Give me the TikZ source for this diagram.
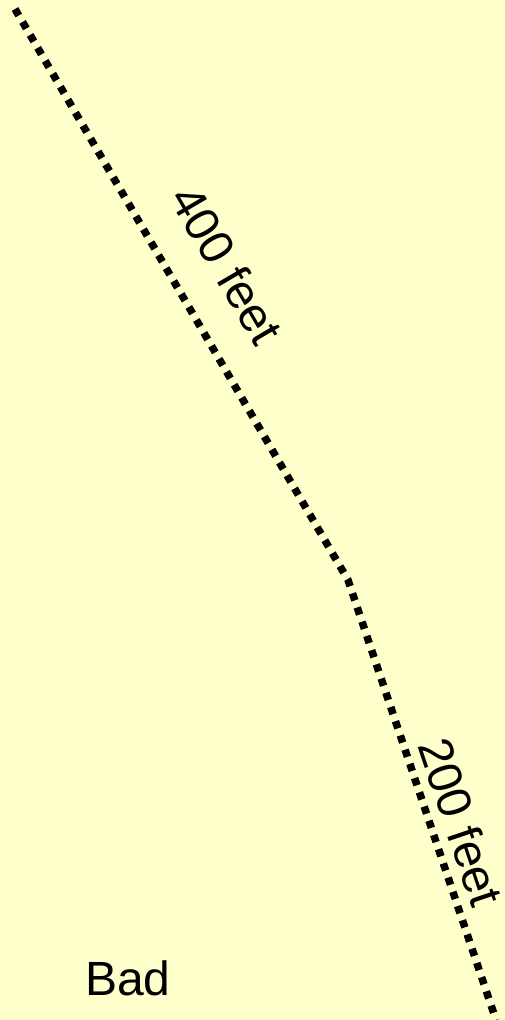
\documentclass[tikz,border=0pt]{standalone}
\usepackage{fontspec}
\setmainfont{Liberation Sans}
\begin{document}
\begin{tikzpicture}[x=1pt,y=-1pt,
  path/.style={line width=7.5pt,dash pattern=on 7.5pt off 7.5pt,black},
  lbl/.style={font=\fontsize{48}{52}\selectfont,inner sep=0pt}]
\fill[fill={rgb,255:red,255;green,255;blue,204}] (0,0) rectangle (505,1020);
\useasboundingbox (0,0) rectangle (505,1020);
\coordinate (a) at (15,9);
\coordinate (b) at (348,580);
\coordinate (c) at (496,1020);
\draw[path] (a) -- (b) -- (c);
\node[lbl,rotate=-59.6] (l400) at (227,265) {400 feet};
\node[lbl,rotate=-71.4] (l200) at (461,822) {200 feet};
\node[lbl,anchor=base west] (bad) at (85,995) {Bad};
\end{tikzpicture}
\end{document}
